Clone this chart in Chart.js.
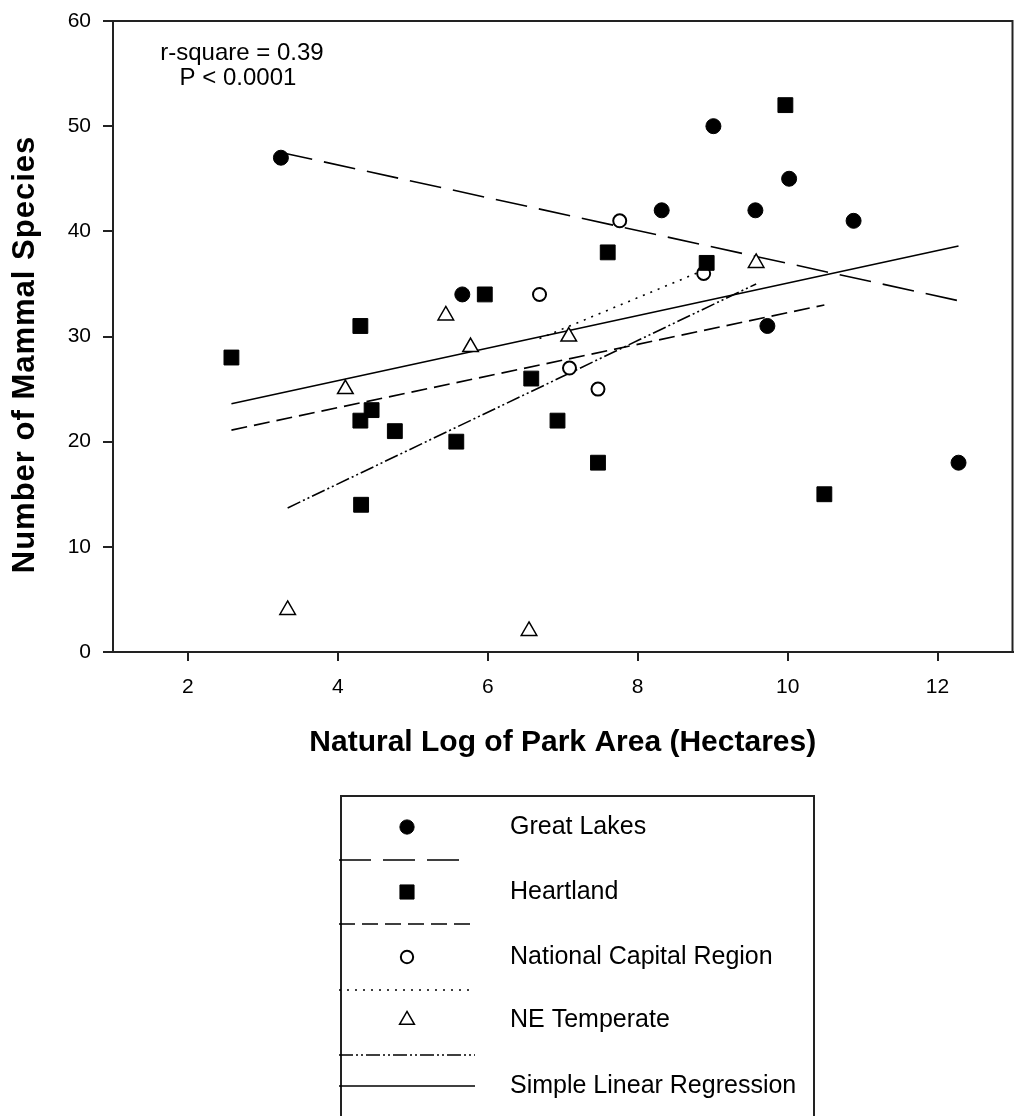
<!DOCTYPE html>
<html>
<head>
<meta charset="utf-8">
<script src="https://cdn.jsdelivr.net/npm/chart.js@4.4.1/dist/chart.umd.min.js"></script>
<style>
  html, body { margin: 0; padding: 0; background: #fff; }
  canvas { display: block; }
</style>
</head>
<body>
<canvas id="myChart" width="1024" height="1116"></canvas>
<script>
// punti: [ln area, numero di specie]
const greatLakes = [[3.24, 47], [5.66, 34], [8.32, 42], [9.01, 50], [9.57, 42], [10.02, 45], [10.88, 41], [9.73, 31], [12.28, 18]];
const heartland = [[2.58, 28], [4.30, 31], [5.96, 34], [7.60, 38], [8.92, 37], [9.97, 52], [4.30, 22], [4.45, 23], [4.76, 21], [5.58, 20], [6.58, 26], [6.93, 22], [7.47, 18], [4.31, 14], [10.49, 15]];
const capitalRegion = [[6.69, 34], [7.76, 41], [8.88, 36], [7.09, 27], [7.47, 25]];
const neTemperate = [[3.33, 4], [4.10, 25], [5.77, 29], [5.44, 32], [6.55, 2], [7.08, 30], [9.58, 37]];

// estremi delle rette di regressione
const greatLakesFit = [[3.24, 47.5], [12.28, 33.4]];
const heartlandFit = [[2.58, 21.1], [10.49, 33.0]];
const capitalFit = [[6.69, 29.8], [8.88, 36.3]];
const neFit = [[3.33, 13.7], [9.58, 35.0]];
const allFit = [[2.58, 23.6], [12.28, 38.6]];

const legendNames = ['Great Lakes', 'Heartland', 'National Capital Region', 'NE Temperate', 'Simple Linear Regression'];
const xTickValues = [2, 4, 6, 8, 10, 12];
const yTickValues = [0, 10, 20, 30, 40, 50, 60];
const statsText = ['r-square = 0.39', 'P < 0.0001'];
const yTitle = 'Number of Mammal Species';

const FONT = "'Liberation Sans', Arial, sans-serif";
Chart.defaults.font.family = FONT;
Chart.defaults.color = '#000';

const toXY = arr => arr.map(p => ({ x: p[0], y: p[1] }));

function pointSet(label, arr, style, radius, fill, bw) {
  return {
    label: label,
    data: toXY(arr),
    pointStyle: style,
    pointRadius: radius,
    pointHoverRadius: radius,
    backgroundColor: fill,
    borderColor: '#000',
    borderWidth: bw,
    showLine: false,
    order: 1
  };
}

function fitSet(arr, dash) {
  return {
    data: toXY(arr),
    showLine: true,
    borderColor: '#000',
    borderWidth: 1.6,
    borderDash: dash,
    pointRadius: 0,
    fill: false,
    order: 2
  };
}

const points = [
  pointSet(legendNames[0], greatLakes, 'circle', 7.5, '#000', 1),
  pointSet(legendNames[1], heartland, 'rect', 10.5, '#000', 1),
  pointSet(legendNames[2], capitalRegion, 'circle', 6.5, '#fff', 2),
  pointSet(legendNames[3], neTemperate, 'triangle', 9, '#fff', 1.5)
];
const lines = [
  fitSet(greatLakesFit, [32, 12]),
  fitSet(heartlandFit, [16, 7]),
  fitSet(capitalFit, [2, 6]),
  fitSet(neFit, [14, 3, 2, 3, 2, 3]),
  fitSet(allFit, [])
];

// cornice attorno all'area del grafico
const frame = {
  id: 'frame',
  afterDatasetsDraw(chart) {
    const { ctx, chartArea: a } = chart;
    ctx.save();
    ctx.strokeStyle = '#222';
    ctx.lineWidth = 2;
    ctx.strokeRect(a.left, a.top, a.right - a.left, a.bottom - a.top);
    ctx.restore();
  }
};

// titolo asse y e testo r-square
const labels = {
  id: 'labels',
  afterDraw(chart) {
    const { ctx, chartArea: a } = chart;
    ctx.save();
    ctx.fillStyle = '#000';
    ctx.textAlign = 'center';
    ctx.textBaseline = 'middle';
    ctx.font = '24px ' + FONT;
    ctx.fillText(statsText[0], a.left + 129, a.top + 32);
    ctx.fillText(statsText[1], a.left + 125, a.top + 57);

    ctx.translate(25, (a.top + a.bottom) / 2 + 18);
    ctx.rotate(-Math.PI / 2);
    ctx.font = 'bold 31px ' + FONT;
    if ('letterSpacing' in ctx) ctx.letterSpacing = '1px';
    ctx.fillText(yTitle, 0, 0);
    ctx.restore();
  }
};

// legenda sotto il grafico
const legendBox = {
  id: 'legendBox',
  afterDraw(chart) {
    const ctx = chart.ctx;
    const left = 341, top = 796, right = 814;
    ctx.save();
    ctx.strokeStyle = '#222';
    ctx.lineWidth = 2;
    ctx.strokeRect(left, top, right - left, 400);

    ctx.font = '25px ' + FONT;
    ctx.textBaseline = 'middle';
    const markerY = [827, 892, 957, 1020];
    const lineY = [860, 924, 990, 1055, 1086];
    const lineEnd = [463, 475, 475, 475, 475];

    points.forEach((ds, i) => {
      ctx.fillStyle = ds.backgroundColor;
      ctx.strokeStyle = '#000';
      ctx.lineWidth = ds.borderWidth;
      ctx.setLineDash([]);
      Chart.helpers.drawPoint(ctx, {
        pointStyle: ds.pointStyle,
        radius: ds.pointRadius * 0.95,
        borderWidth: ds.borderWidth,
        rotation: 0
      }, 407, markerY[i]);
      ctx.fillStyle = '#000';
      ctx.fillText(legendNames[i], 510, markerY[i]);
    });

    lines.forEach((ds, i) => {
      ctx.strokeStyle = '#000';
      ctx.lineWidth = 1.6;
      ctx.setLineDash(ds.borderDash);
      ctx.beginPath();
      ctx.moveTo(left - 2, lineY[i]);
      ctx.lineTo(lineEnd[i], lineY[i]);
      ctx.stroke();
    });
    ctx.setLineDash([]);
    ctx.fillStyle = '#000';
    ctx.fillText(legendNames[4], 510, lineY[4]);
    ctx.restore();
  }
};

const myChart = new Chart(document.getElementById('myChart'), {
  type: 'scatter',
  data: { datasets: points.concat(lines) },
  plugins: [frame, labels, legendBox],
  options: {
    responsive: false,
    animation: false,
    events: [],
    layout: { padding: { left: 0, top: 21, right: 8, bottom: 0 } },
    plugins: {
      legend: { display: false },
      tooltip: { enabled: false }
    },
    scales: {
      x: {
        type: 'linear',
        min: 1,
        max: 13,
        afterBuildTicks: s => { s.ticks = xTickValues.map(v => ({ value: v })); },
        afterFit: s => { s.height = 464; s.paddingLeft = 0; s.paddingRight = 0; },
        grid: { drawOnChartArea: false, drawTicks: true, tickLength: 9, color: '#222', lineWidth: 2 },
        border: { display: true, color: '#222', width: 2 },
        ticks: { font: { size: 21 }, padding: 14, color: '#000', maxRotation: 0 },
        title: {
          display: true,
          text: 'Natural Log of Park Area (Hectares)',
          font: { size: 30, weight: 'bold' },
          color: '#000',
          padding: { top: 0, bottom: 355 }
        }
      },
      y: {
        type: 'linear',
        min: 0,
        max: 60,
        afterBuildTicks: s => { s.ticks = yTickValues.map(v => ({ value: v })); },
        afterFit: s => { s.width = 113; s.paddingTop = 0; s.paddingBottom = 0; },
        grid: { drawOnChartArea: false, drawTicks: true, tickLength: 10, color: '#222', lineWidth: 2 },
        border: { display: true, color: '#222', width: 2 },
        ticks: { font: { size: 21 }, padding: 12, color: '#000' }
      }
    }
  }
});
</script>
</body>
</html>
